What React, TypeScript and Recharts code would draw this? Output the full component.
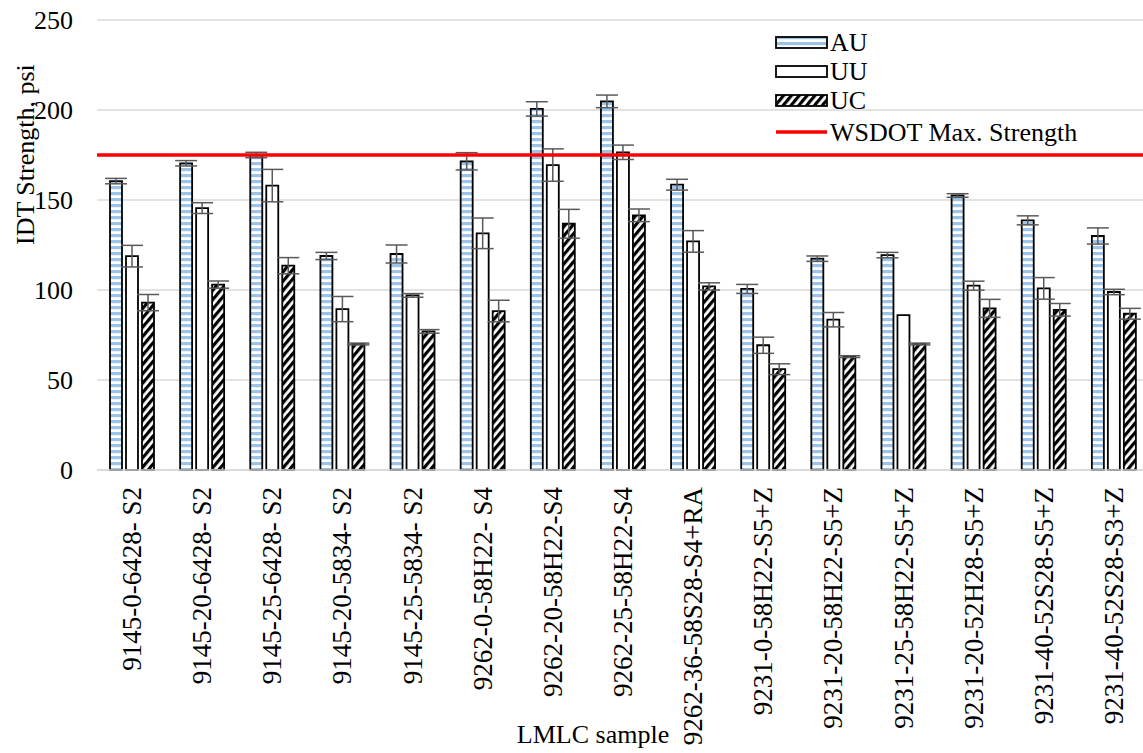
import React from 'react';
import { Bar, BarChart, CartesianGrid, ErrorBar, ReferenceLine, XAxis, YAxis } from 'recharts';

const samples = [
  '9145-0-6428- S2',
  '9145-20-6428- S2',
  '9145-25-6428- S2',
  '9145-20-5834- S2',
  '9145-25-5834- S2',
  '9262-0-58H22- S4',
  '9262-20-58H22-S4',
  '9262-25-58H22-S4',
  '9262-36-58S28-S4+RA',
  '9231-0-58H22-S5+Z',
  '9231-20-58H22-S5+Z',
  '9231-25-58H22-S5+Z',
  '9231-20-52H28-S5+Z',
  '9231-40-52S28-S5+Z',
  '9231-40-52S28-S3+Z',
];

// mean IDT strength (psi) per conditioning
const au = [160.5, 170.4, 175, 118.9, 120, 171.5, 200.6, 204.8, 158.5, 100.6, 117.4, 119.4, 152.5, 138.7, 130];
const uu = [118.8, 145.5, 158, 89.4, 97, 131.5, 169.4, 176.5, 127, 69.3, 83.5, 86, 102.4, 100.9, 98.9];
const uc = [93, 103, 113.5, 70, 77, 88.3, 136.8, 141.5, 102, 56, 63, 70, 89.8, 89, 86.8];

// standard deviations shown as error bars
const auSd = [1.5, 1.5, 1.5, 2, 5, 4.8, 4, 3.5, 3, 2.5, 1.5, 1.5, 1, 2.5, 4.5];
const uuSd = [6, 3, 9, 7, 1, 8.5, 9, 4, 6, 4.5, 4, 0, 2.5, 6, 1.5];
const ucSd = [4.5, 2, 4.5, 0.5, 1, 6, 8, 3.5, 2, 3, 0.5, 0.5, 5, 3.5, 3];

const strengthTicks = [0, 50, 100, 150, 200, 250];
const maxStrength = 175;

const data = samples.map((name, i) => ({
  name,
  AU: au[i],
  UU: uu[i],
  UC: uc[i],
  auSd: auSd[i],
  uuSd: uuSd[i],
  ucSd: ucSd[i],
}));

const serif = { fontFamily: '"Liberation Serif", "Times New Roman", serif', fill: '#000' };

const SampleTick = ({ x, y, payload }: any) => (
  <text
    x={x}
    y={y + 9}
    transform={`rotate(-90 ${x} ${y + 9})`}
    textAnchor="end"
    dominantBaseline="central"
    style={{ ...serif, fontSize: 27 }}
  >
    {payload.value}
  </text>
);

const StrengthTick = ({ y, payload }: any) => (
  <text x={73} y={y} textAnchor="end" dominantBaseline="central" style={{ ...serif, fontSize: 26 }}>
    {payload.value}
  </text>
);

const legendRows = [
  { label: 'AU', fill: 'url(#auStripes)' },
  { label: 'UU', fill: '#fff' },
  { label: 'UC', fill: 'url(#ucHatch)' },
];

const StrengthLegend = () => (
  <div
    style={{
      position: 'absolute',
      left: 775,
      top: 28,
      fontFamily: serif.fontFamily,
      fontSize: 26,
      color: '#000',
      lineHeight: '29px',
    }}
  >
    {legendRows.map((row) => (
      <div key={row.label} style={{ display: 'flex', alignItems: 'center', height: 29 }}>
        <svg width={54} height={14} style={{ marginRight: 1 }}>
          <rect x={1} y={1} width={51} height={11} fill={row.fill} stroke="#000" strokeWidth={1.8} />
        </svg>
        <span>{row.label}</span>
      </div>
    ))}
    <div style={{ display: 'flex', alignItems: 'center', height: 34 }}>
      <svg width={54} height={14} style={{ marginRight: 1 }}>
        <line x1={1} y1={7} x2={52} y2={7} stroke="#FF0000" strokeWidth={3.5} />
      </svg>
      <span>WSDOT Max. Strength</span>
    </div>
  </div>
);

export default function App() {
  return (
    <div style={{ position: 'absolute', left: 0, top: 0, width: 1143, height: 753, overflow: 'hidden', background: '#fff' }}>
      <BarChart
        width={1149}
        height={753}
        data={data}
        margin={{ top: 20, right: 0, bottom: 0, left: 0 }}
        barSize={12}
        barGap={4}
      >
        <defs>
          <pattern id="auStripes" patternUnits="userSpaceOnUse" width={6} height={6}>
            <rect width={6} height={6} fill="#fff" />
            <rect width={6} height={3.2} fill="#9DC3E6" />
          </pattern>
          <pattern id="ucHatch" patternUnits="userSpaceOnUse" width={6} height={6} patternTransform="rotate(40)">
            <rect width={6} height={6} fill="#fff" />
            <rect width={3.2} height={6} fill="#000" />
          </pattern>
        </defs>
        <CartesianGrid vertical={false} stroke="#D9D9D9" strokeWidth={1.5} />
        <XAxis
          dataKey="name"
          interval={0}
          height={283}
          tick={<SampleTick />}
          tickLine={false}
          axisLine={{ stroke: '#D9D9D9', strokeWidth: 1.5 }}
          label={{ value: 'LMLC sample', position: 'insideBottom', offset: 10, dx: -30, style: { ...serif, fontSize: 26 } }}
        />
        <YAxis
          width={97}
          domain={[0, 250]}
          ticks={strengthTicks}
          tickLine={false}
          axisLine={false}
          tick={<StrengthTick />}
          label={{ value: 'IDT Strength, psi', angle: -90, position: 'insideLeft', dx: 20, style: { ...serif, fontSize: 26 } }}
        />
        <Bar dataKey="AU" fill="url(#auStripes)" stroke="#000" strokeWidth={1.8} isAnimationActive={false}>
          <ErrorBar dataKey="auSd" width={11} stroke="#595959" strokeWidth={1.5} />
        </Bar>
        <Bar dataKey="UU" fill="#fff" stroke="#000" strokeWidth={1.8} isAnimationActive={false}>
          <ErrorBar dataKey="uuSd" width={11} stroke="#595959" strokeWidth={1.5} />
        </Bar>
        <Bar dataKey="UC" fill="url(#ucHatch)" stroke="#000" strokeWidth={1.8} isAnimationActive={false}>
          <ErrorBar dataKey="ucSd" width={11} stroke="#595959" strokeWidth={1.5} />
        </Bar>
        <ReferenceLine y={maxStrength} stroke="#FF0000" strokeWidth={3.5} ifOverflow="extendDomain" />
      </BarChart>
      <StrengthLegend />
    </div>
  );
}
